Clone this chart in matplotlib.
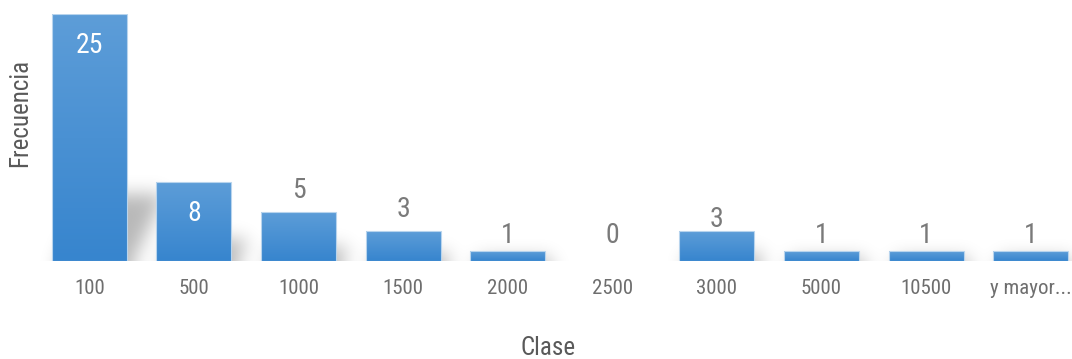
import numpy as np
import matplotlib
matplotlib.use("Agg")
import matplotlib.pyplot as plt
from matplotlib import font_manager

# Histogram data
clases = ["100", "500", "1000", "1500", "2000", "2500", "3000", "5000", "10500", "y mayor..."]
frecuencia = [25, 8, 5, 3, 1, 0, 3, 1, 1, 1]
# vertical gap (px) between a value label's digits and the top of its bar
label_gap_px = [19, 19, 14, 14, 8, 18, 4, 8, 8, 8]

names = {f.name for f in font_manager.fontManager.ttflist}
family = "Roboto Condensed" if "Roboto Condensed" in names else "Roboto"
plt.rcParams["font.family"] = [family, "DejaVu Sans"]

W, H = 1072, 359
fig = plt.figure(figsize=(W / 100, H / 100), dpi=100)
ax_left, ax_bottom, ax_h = 37, 98, 247
ax = fig.add_axes([ax_left / W, ax_bottom / H, (W - ax_left) / W, ax_h / H])

x = np.arange(len(clases))
xmin, xmax = -0.5, (W - ax_left) / 104.6 - 0.5
ymax = 25
ax.set_xlim(xmin, xmax)
ax.set_ylim(0, ymax)

bar_w = 0.717
bars = ax.bar(x, frecuencia, width=bar_w, facecolor="none", edgecolor="none", zorder=3)

# soft cast shadow behind the bars
ax_w_px = W - ax_left
nx, ny = ax_w_px, ax_h
gx = np.linspace(xmin, xmax, nx)
gy = np.linspace(0, ymax, ny)
XX, YY = np.meshgrid(gx, gy)
mask = np.zeros((ny, nx))
for xi, h in zip(x, frecuencia):
    if h <= 0:
        continue
    hs = 0.27 * h
    shift = 0.06 + YY * (0.30 / 6.75)
    inside = (YY <= hs) & (XX >= xi - bar_w / 2 + shift) & (XX <= xi + bar_w / 2 + shift)
    mask = np.maximum(mask, inside.astype(float))

def blur(a, sigma, axis):
    r = int(3 * sigma)
    k = np.exp(-0.5 * (np.arange(-r, r + 1) / sigma) ** 2)
    k /= k.sum()
    pad = [(0, 0), (0, 0)]
    pad[axis] = (r, r)
    ap = np.pad(a, pad, mode="edge" if axis == 0 else "constant")
    return np.apply_along_axis(lambda v: np.convolve(v, k, mode="valid"), axis, ap)

mask = blur(mask, 9, 1)
mask = blur(mask, 9, 0)
shadow = np.zeros((ny, nx, 4))
shadow[..., 3] = 0.28 * mask
ax.imshow(shadow, extent=[xmin, xmax, 0, ymax], origin="lower", aspect="auto",
          interpolation="bilinear", zorder=1)

# vertical gradient fill for each bar
top_c = np.array([93, 157, 216]) / 255
bot_c = np.array([55, 133, 206]) / 255
t = np.linspace(0, 1, 64)[:, None]
grad = (bot_c[None, :] * (1 - t) + top_c[None, :] * t)[:, None, :]
for rect in bars:
    h = rect.get_height()
    if h <= 0:
        continue
    x0 = rect.get_x()
    im = ax.imshow(grad, extent=[x0, x0 + rect.get_width(), 0, h], origin="lower",
                   aspect="auto", interpolation="bilinear", zorder=2)
    im.set_clip_path(rect)
    ax.add_patch(plt.Rectangle((x0, 0), rect.get_width(), h, fill=False,
                               edgecolor=(0.72, 0.83, 0.93), lw=0.8, zorder=3))

# value labels (digits are about 20 px tall)
digit_h = 20
for xi, h, gap in zip(x, frecuencia, label_gap_px):
    if h >= 8:
        ax.annotate(str(h), (xi, h), xytext=(0, -(gap + digit_h) * 0.72),
                    textcoords="offset points", ha="center", va="baseline",
                    fontsize=20, color="white", zorder=4)
    else:
        ax.annotate(str(h), (xi, h), xytext=(0, gap * 0.72), textcoords="offset points",
                    ha="center", va="baseline", fontsize=20, color="#7a7a7a", zorder=4)

ax.set_xticks(x)
ax.set_xticklabels(clases, fontsize=15, color="#6e6e6e")
ax.tick_params(axis="x", length=0, pad=13)
ax.set_yticks([])
for s in ax.spines.values():
    s.set_visible(False)

fig.text(548 / W, 1 - 348 / H, "Clase", ha="center", va="center", fontsize=18, color="#595959")
fig.text(20 / W, 1 - 113 / H, "Frecuencia", ha="center", va="center", rotation=90,
         fontsize=18, color="#595959")

fig.savefig("out.png", dpi=100)
